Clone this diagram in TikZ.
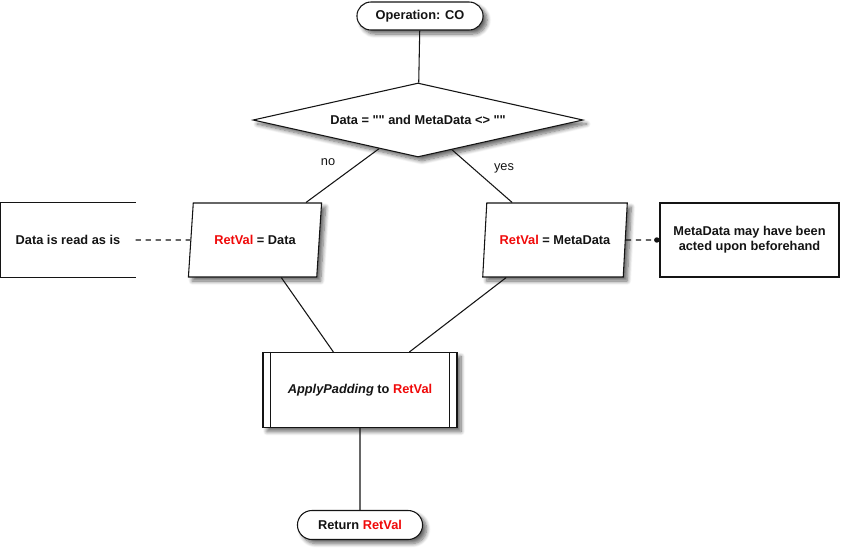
\documentclass[tikz,border=0pt]{standalone}
\usepackage{fontspec}
\setmainfont{Liberation Sans}
\usetikzlibrary{shapes.geometric,shapes.misc,shadows.blur,arrows.meta}

\definecolor{retred}{RGB}{240,10,10}
\definecolor{ink}{RGB}{20,20,20}
\newcommand{\retval}{\textcolor{retred}{RetVal}}
\newcommand{\qq}{\textquotedbl\textquotedbl}

\tikzset{
  shape shadow/.style={blur shadow={shadow blur steps=8, shadow blur radius=3pt, shadow xshift=3pt, shadow yshift=-3pt, shadow opacity=60}},
  terminal/.style={rounded rectangle, draw, fill=white, shape shadow, minimum height=21pt},
  decision/.style={diamond, aspect=4.46, draw, fill=white, shape shadow, inner sep=0pt},
  io/.style={trapezium, trapezium left angle=79, trapezium right angle=101, trapezium stretches=true,
    draw, fill=white, shape shadow, minimum height=55.5pt},
  notebox/.style={rectangle, minimum height=55.5pt},
  notelink/.style={dash pattern=on 4pt off 3.5pt},
}

\begin{document}
\begin{tikzpicture}[x=0.75pt, y=-0.75pt, line width=0.8pt, font=\fontsize{9.6}{11.5}\selectfont\bfseries, color=ink]

      \useasboundingbox (0,0) rectangle (841,558);

      \begin{scope}[every node/.style={text=ink}]
        \node[terminal, minimum width=101.25pt] (start) at (420,16) {Operation: CO};
        \node[decision, minimum width=247.5pt, minimum height=55.5pt] (cond) at (418,120) {Data = \qq{} and MetaData <> \qq};
        \node[io, minimum width=100.5pt] (setdata) at (255,240) {\retval{} = Data};
        \node[io, minimum width=108.75pt] (setmeta) at (555,240) {\retval{} = MetaData};
        \node[rectangle, draw, fill=white, shape shadow, minimum width=145.5pt, minimum height=56.25pt] (pad) at (360,390)
          {\textit{ApplyPadding} to \retval};
        \node[terminal, minimum width=100.5pt, minimum height=21.75pt] (ret) at (360,525) {Return \retval};
        \node[notebox, minimum width=100.5pt] (note1) at (68,240) {Data is read as is};
        \node[notebox, draw, minimum width=134.25pt, align=center] (note2) at (749.5,240)
          {MetaData may have been\\acted upon beforehand};
      \end{scope}

      % predefined process bars and open note bracket
      \draw ([xshift=6pt]pad.north west) -- ([xshift=6pt]pad.south west);
      \draw ([xshift=-6pt]pad.north east) -- ([xshift=-6pt]pad.south east);
      \draw (note1.north east) -- (note1.north west) -- (note1.south west) -- (note1.south east);

      \begin{scope}[every node/.style={font=\fontsize{9.6}{11.5}\selectfont, text=ink}]
        \node (lno)  at (328,162) {no};
        \node (lyes) at (504,168) {yes};
      \end{scope}

      \begin{scope}[every edge/.style={draw}]
        \path (start)   edge (cond);
        \path (cond)    edge (setdata);
        \path (cond)    edge (setmeta);
        \path (setdata) edge (pad);
        \path (setmeta) edge (pad);
        \path (pad)     edge (ret);
        \path (note1)   edge[notelink] (setdata);
        \path (setmeta) edge[notelink, -{Circle[length=4pt]}] (note2);
      \end{scope}

    \end{tikzpicture}
\end{document}
